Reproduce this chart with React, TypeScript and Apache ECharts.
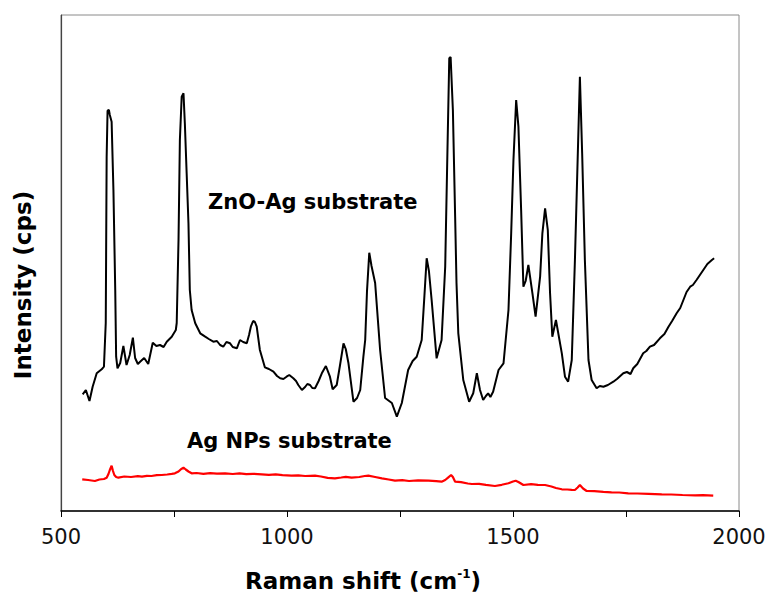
import React, { useEffect, useRef } from "react";
import * as echarts from "echarts";

// ZnO-Ag substrate spectrum: [Raman shift (cm-1), intensity (cps)]
const spectrumZnO: [number, number][] = [
  [548, 1167], [555, 1210], [563, 1100], [570, 1243], [579, 1377], [590, 1417], [595, 1443],
  [599, 1880], [601, 3543], [603, 4003], [606, 4010], [608, 3960], [612, 3893], [616, 3210],
  [620, 2210], [622, 1543], [625, 1427], [631, 1480], [638, 1650], [645, 1460], [652, 1560],
  [659, 1733], [664, 1530], [670, 1470], [675, 1493], [684, 1530], [693, 1470], [703, 1683],
  [711, 1650], [719, 1660], [727, 1640], [734, 1693], [745, 1743], [754, 1810], [756, 1880],
  [760, 2710], [763, 3710], [767, 4143], [771, 4177], [774, 3877], [778, 3377], [782, 2877],
  [785, 2210], [789, 2010], [797, 1877], [808, 1777], [819, 1743], [827, 1720], [837, 1693],
  [845, 1700], [852, 1660], [859, 1643], [866, 1690], [874, 1677], [880, 1640], [889, 1627],
  [896, 1710], [903, 1690], [911, 1677], [916, 1760], [920, 1843], [925, 1900], [929, 1890],
  [933, 1843], [940, 1610], [951, 1437], [960, 1420], [970, 1393], [978, 1350], [985, 1327],
  [992, 1320], [999, 1343], [1005, 1360], [1014, 1327], [1020, 1300], [1025, 1260], [1033, 1210],
  [1040, 1240], [1045, 1270], [1051, 1260], [1056, 1230], [1062, 1227], [1070, 1300], [1077, 1377],
  [1086, 1450], [1095, 1343], [1101, 1217], [1110, 1260], [1117, 1450], [1125, 1677], [1130, 1620],
  [1136, 1477], [1147, 1093], [1155, 1130], [1162, 1210], [1169, 1543], [1173, 1710], [1177, 2200],
  [1182, 2583], [1187, 2450], [1195, 2280], [1206, 1610], [1217, 1130], [1232, 1080], [1243, 943],
  [1254, 1080], [1268, 1410], [1278, 1500], [1287, 1543], [1298, 1710], [1304, 2150], [1309, 2527],
  [1314, 2400], [1320, 2110], [1331, 1527], [1342, 1710], [1350, 2443], [1355, 3610], [1359, 4527],
  [1362, 4540], [1367, 4010], [1372, 2943], [1375, 2280], [1379, 1777], [1390, 1310], [1403, 1093],
  [1412, 1177], [1420, 1377], [1427, 1210], [1434, 1110], [1440, 1150], [1445, 1177], [1450, 1140],
  [1456, 1193], [1468, 1410], [1479, 1477], [1490, 2010], [1496, 2780], [1501, 3510], [1507, 4110],
  [1512, 3843], [1518, 3010], [1523, 2243], [1528, 2300], [1534, 2460], [1543, 2177], [1550, 1943],
  [1560, 2343], [1565, 2777], [1571, 3027], [1577, 2810], [1582, 2177], [1587, 1743], [1595, 1910],
  [1608, 1577], [1615, 1343], [1622, 1293], [1630, 1510], [1637, 2510], [1643, 3510], [1648, 4343],
  [1653, 3577], [1659, 2510], [1667, 1510], [1674, 1310], [1685, 1227], [1692, 1250], [1700, 1243],
  [1710, 1260], [1722, 1293], [1730, 1320], [1744, 1377], [1752, 1390], [1760, 1370], [1766, 1427],
  [1775, 1470], [1788, 1577], [1795, 1600], [1803, 1643], [1812, 1660], [1825, 1727], [1835, 1770],
  [1844, 1843], [1852, 1900], [1862, 1977], [1870, 2030], [1877, 2110], [1884, 2190], [1892, 2243],
  [1898, 2260], [1906, 2310], [1912, 2350], [1921, 2410], [1930, 2470], [1940, 2510], [1945, 2527],
];

// Ag NPs substrate spectrum: [Raman shift (cm-1), intensity (cps)]
const spectrumAg: [number, number][] = [
  [547, 317], [560, 310], [575, 300], [585, 315], [595, 320], [601, 333], [605, 370], [608, 410],
  [612, 453], [615, 400], [618, 360], [622, 340], [627, 333], [640, 345], [655, 340], [670, 348],
  [679, 343], [690, 352], [700, 350], [712, 358], [723, 360], [735, 365], [745, 372], [752, 377],
  [760, 395], [766, 420], [771, 433], [776, 415], [782, 395], [789, 377], [800, 380], [815, 372],
  [830, 378], [845, 374], [863, 377], [880, 370], [895, 376], [910, 368], [925, 372], [944, 367],
  [960, 362], [975, 366], [990, 358], [1010, 353], [1025, 356], [1040, 350], [1062, 353], [1075, 345],
  [1090, 332], [1106, 327], [1120, 335], [1130, 342], [1143, 333], [1160, 340], [1172, 350], [1180, 353],
  [1195, 340], [1210, 327], [1225, 315], [1239, 303], [1255, 308], [1270, 300], [1290, 306], [1313, 303],
  [1330, 298], [1342, 293], [1350, 310], [1357, 337], [1363, 360], [1367, 340], [1372, 293], [1385, 288],
  [1400, 275], [1409, 270], [1425, 272], [1440, 262], [1460, 250], [1475, 262], [1490, 277], [1500, 295],
  [1506, 303], [1512, 290], [1523, 260], [1540, 268], [1555, 262], [1571, 260], [1585, 245], [1595, 230],
  [1608, 217], [1620, 215], [1630, 212], [1637, 210], [1643, 235], [1648, 260], [1655, 225], [1663, 200],
  [1680, 198], [1700, 192], [1718, 187], [1735, 185], [1755, 177], [1775, 175], [1800, 172], [1829, 167],
  [1850, 165], [1875, 160], [1903, 157], [1920, 158], [1943, 153],
];

const xLabelledTicks = [500, 1000, 1500, 2000];

const FONT = "'DejaVu Sans', 'Liberation Sans', Arial, sans-serif";

export default function App() {
  const ref = useRef<HTMLDivElement>(null);

  useEffect(() => {
    document.body.style.margin = "0";
    if (!ref.current) return;
    const chart = echarts.init(ref.current, undefined, { renderer: "svg" });

    chart.setOption({
      animation: false,
      backgroundColor: "#ffffff",
      grid: {
        left: 61,
        top: 15,
        width: 678,
        height: 496,
        show: true,
        borderColor: "#8a8a8a",
        borderWidth: 1,
        backgroundColor: "transparent",
      },
      xAxis: {
        type: "value",
        min: 500,
        max: 2000,
        interval: 250,
        axisLine: { show: true, onZero: false, lineStyle: { color: "#000", width: 1.5 } },
        axisTick: { show: true, inside: false, length: 6, lineStyle: { color: "#000", width: 1 } },
        splitLine: { show: false },
        axisLabel: {
          margin: 15,
          fontFamily: FONT,
          fontSize: 21,
          color: "#111",
          formatter: (v: number) => (xLabelledTicks.includes(v) ? String(v) : ""),
        },
      },
      yAxis: {
        type: "value",
        min: 0,
        max: 4960,
        axisLine: { show: true, lineStyle: { color: "#444", width: 1.2 } },
        axisTick: { show: false },
        axisLabel: { show: false },
        splitLine: { show: false },
      },
      series: [
        {
          name: "ZnO-Ag substrate",
          type: "line",
          data: spectrumZnO,
          showSymbol: false,
          lineStyle: { color: "#000", width: 2 },
          z: 3,
        },
        {
          name: "Ag NPs substrate",
          type: "line",
          data: spectrumAg,
          showSymbol: false,
          lineStyle: { color: "#ff0000", width: 2.2 },
          z: 3,
        },
      ],
      graphic: [
        {
          type: "text",
          x: 208,
          y: 202,
          style: {
            text: "ZnO-Ag substrate",
            fontFamily: FONT,
            fontSize: 21,
            fontWeight: "bold",
            fill: "#000",
            textAlign: "left",
            textVerticalAlign: "middle",
          },
        },
        {
          type: "text",
          x: 187,
          y: 441,
          style: {
            text: "Ag NPs substrate",
            fontFamily: FONT,
            fontSize: 21,
            fontWeight: "bold",
            fill: "#000",
            textAlign: "left",
            textVerticalAlign: "middle",
          },
        },
        {
          type: "text",
          x: 245,
          y: 581,
          style: {
            text: "{a|Raman shift (cm}{s|-1}{a|)}",
            fontFamily: FONT,
            fontSize: 23,
            fontWeight: "bold",
            fill: "#000",
            textAlign: "left",
            textVerticalAlign: "middle",
            rich: {
              a: { fontFamily: FONT, fontSize: 23, fontWeight: "bold", fill: "#000", lineHeight: 26 },
              s: {
                fontFamily: FONT,
                fontSize: 12,
                fontWeight: "bold",
                fill: "#000",
                lineHeight: 14,
                verticalAlign: "top",
              },
            },
          },
        },
        {
          type: "text",
          x: 23,
          y: 285,
          rotation: Math.PI / 2,
          style: {
            text: "Intensity (cps)",
            fontFamily: FONT,
            fontSize: 23,
            fontWeight: "bold",
            fill: "#000",
            textAlign: "center",
            textVerticalAlign: "middle",
          },
        },
      ],
    });

    return () => chart.dispose();
  }, []);

  return <div ref={ref} style={{ width: 770, height: 593 }} />;
}
